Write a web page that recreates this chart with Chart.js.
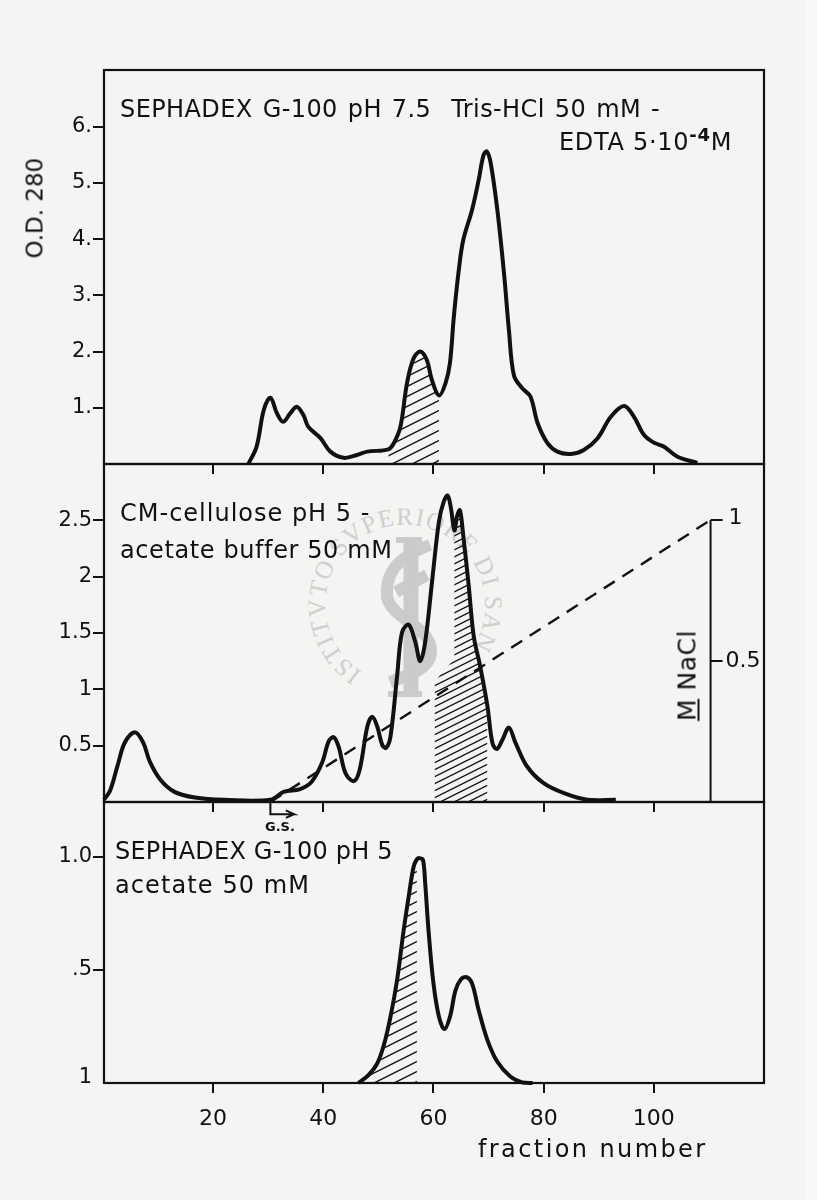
<!DOCTYPE html>
<html>
<head>
<meta charset="utf-8">
<title>Sephadex and CM-cellulose fractions</title>
<script src="https://cdn.jsdelivr.net/npm/chart.js@4/dist/chart.umd.js"></script>
<style>
  html, body { margin: 0; padding: 0; background: #f4f4f3; }
  #page { position: relative; width: 817px; height: 1200px; overflow: hidden; }
  #edge { position: absolute; left: 806px; top: 0; width: 11px; height: 1200px; background: #f8f8f8; }
  canvas { position: absolute; left: 0; top: 0; }
  svg { position: absolute; left: 0; top: 0; }
  .t { position: absolute; white-space: pre; line-height: 1; color: #111; font-family: "DejaVu Sans", sans-serif; font-size: 24px; }
  .rot { transform: rotate(-90deg); transform-origin: center center; }
  .sup { position: relative; top: -9px; font-size: 18px; font-weight: 700; }
</style>
</head>
<body>
<div id="page">
  <div id="edge"></div>
  <!-- stamp behind the charts -->
  <svg width="817" height="1200">
    <defs><path id="stampArc" d="M 362 672 A 80 80 0 1 1 477 640"></path></defs>
    <text font-family="Liberation Serif" font-size="25" fill="#cfcfce" letter-spacing="1.3">
      <textPath href="#stampArc">ISTITVTO SVPERIORE DI SANI</textPath>
    </text>
    <g fill="none" stroke="#cbcbca" stroke-width="12">
      <path d="M 411 540 V 694" stroke-width="15"></path>
      <path d="M 396 540 H 422 M 388 694 H 422" stroke-width="6"></path>
      <path d="M 430 545 C 395 558 385 575 387 597 C 392 620 430 625 431 650 C 432 668 410 675 390 682"></path>
      <path d="M 427 575 L 396 592"></path>
    </g>
  </svg>

  <canvas id="chartTop" width="817" height="1200"></canvas>
  <canvas id="chartMiddle" width="817" height="1200"></canvas>
  <canvas id="chartBottom" width="817" height="1200"></canvas>

  <div class="t" style="left:120px;top:97px;letter-spacing:0.4px;word-spacing:2px">SEPHADEX G-100 pH 7.5  Tris-HCl 50 mM -</div>
  <div class="t" style="left:559px;top:130px;letter-spacing:0.7px">EDTA 5·10<span class="sup">-4</span>M</div>
  <div class="t" style="left:120px;top:501px;letter-spacing:1px">CM-cellulose pH 5 -</div>
  <div class="t" style="left:120px;top:538px;letter-spacing:0.6px">acetate buffer 50 mM</div>
  <div class="t" style="left:115px;top:839px;letter-spacing:0.2px">SEPHADEX G-100 pH 5</div>
  <div class="t" style="left:115px;top:873px;letter-spacing:1.1px">acetate 50 mM</div>
  <div class="t" style="left:478px;top:1137px;letter-spacing:2.4px">fraction number</div>
  <div class="t rot" style="left:-15px;top:197px;width:100px;text-align:center;font-size:23px">O.D. 280</div>
  <div class="t rot" style="left:637px;top:663px;width:100px;text-align:center;font-size:25px;letter-spacing:0.5px"><u>M</u> NaCl</div>
  <div class="t" style="left:265px;top:820px;font-size:13px;font-weight:700">G.S.</div>
</div>

<script>
// fraction numbers and O.D. (G-100 pH 7.5)
const topFractions = [26.4, 27.9, 29.2, 30.4, 31.6, 32.7, 34, 35.2, 36.4, 37.3, 39.5, 41.3, 43.7, 46.1, 48, 51.8, 52.8, 54, 55.2, 56.4, 57.6, 58.8, 59.7, 61, 62.2, 63, 63.7, 64.6, 65.4, 67, 68.2, 69.1, 69.7, 70.4, 71.6, 72.8, 73.7, 74.6, 76.1, 77.6, 78.9, 80.7, 82.5, 84.9, 87.3, 89.8, 92.2, 94.6, 96.4, 98.2, 100, 101.8, 104.3, 107.9];
const topValues = [0, 0.31, 0.96, 1.18, 0.9, 0.75, 0.9, 1.02, 0.87, 0.66, 0.46, 0.22, 0.11, 0.16, 0.22, 0.26, 0.37, 0.66, 1.44, 1.88, 2, 1.85, 1.5, 1.22, 1.44, 1.8, 2.62, 3.45, 3.98, 4.52, 5.05, 5.5, 5.56, 5.35, 4.52, 3.4, 2.38, 1.58, 1.35, 1.2, 0.73, 0.37, 0.22, 0.18, 0.25, 0.46, 0.84, 1.03, 0.84, 0.52, 0.38, 0.31, 0.13, 0.02];
const topTicks = [1, 2, 3, 4, 5, 6];
const topTickLabels = ['1.', '2.', '3.', '4.', '5.', '6.'];
const topHatchRange = [51.8, 61];

// middle panel (CM-cellulose)
const midFractions = [0.2, 1.3, 2.7, 4, 5.8, 7.3, 8.5, 10.4, 13, 16.7, 22, 30.4, 32.8, 35.8, 37.9, 39.8, 41, 41.9, 42.8, 44, 45.5, 46.6, 48, 48.9, 49.8, 50.7, 51.4, 52.2, 53.4, 54.3, 55.5, 56.7, 57.6, 58.5, 59.8, 61, 61.9, 62.6, 63.2, 63.8, 64.3, 64.8, 65.4, 66.4, 67.3, 68.5, 69.8, 70.7, 71.5, 72.5, 73.7, 74.9, 77, 80, 83.7, 87.9, 93.1];
const midValues = [0.02, 0.1, 0.33, 0.53, 0.62, 0.53, 0.36, 0.2, 0.09, 0.04, 0.02, 0.02, 0.09, 0.115, 0.18, 0.35, 0.54, 0.575, 0.49, 0.26, 0.185, 0.285, 0.67, 0.757, 0.67, 0.507, 0.48, 0.58, 1.117, 1.507, 1.574, 1.42, 1.25, 1.42, 1.98, 2.49, 2.67, 2.72, 2.6, 2.41, 2.54, 2.59, 2.37, 1.92, 1.476, 1.2, 0.85, 0.525, 0.47, 0.55, 0.66, 0.525, 0.315, 0.167, 0.078, 0.02, 0.02];
const midTicks = [0.5, 1, 1.5, 2, 2.5];
const midTickLabels = ['0.5', '1', '1.5', '2', '2.5'];
// hatched area starts on a slanted edge before it reaches the curve
const midHatchLeadX = [60.2, 63.8];
const midHatchLeadY = [1.07, 1.27];
const midHatchEnd = 69.8;

// NaCl gradient, right hand axis
const saltFractions = [30.4, 110.3];
const saltMolar = [0, 1];
const saltTicks = [0.5, 1];
const saltTickLabels = ['0.5', '1'];

// G.S. arrow under the middle panel
const gsFractions = [30.4, 30.4, 34.7, 33.2, 34.7, 33.2];
const gsLevels = [0, -0.108, -0.108, -0.075, -0.108, -0.141];

// bottom panel (G-100 pH 5)
const lowFractions = [46.4, 48.2, 49.8, 51, 52.2, 53.4, 54.6, 55.5, 56.4, 57, 57.5, 58.1, 58.5, 59.1, 60, 61, 62, 63, 64, 65, 66, 67, 68.2, 69.8, 71.6, 74, 76.2, 78];
const lowValues = [0, 0.035, 0.087, 0.168, 0.293, 0.456, 0.677, 0.824, 0.957, 0.99, 0.995, 0.987, 0.884, 0.677, 0.441, 0.293, 0.238, 0.293, 0.41, 0.459, 0.468, 0.441, 0.323, 0.19, 0.094, 0.028, 0.002, 0];
const lowTicks = [0.025, 0.5, 1];
const lowTickLabels = ['1', '.5', '1.0'];
const lowHatchRange = [46.4, 57];

const fractionTicks = [20, 40, 60, 80, 100];

const INK = '#111111';
const FONT = '"DejaVu Sans", sans-serif';

// diagonal hatching as a repeating canvas pattern
function hatch(step, lineWidth) {
  const c = document.createElement('canvas');
  c.width = step * 2;
  c.height = step;
  const g = c.getContext('2d');
  g.strokeStyle = INK;
  g.lineWidth = lineWidth;
  g.beginPath();
  g.moveTo(-step * 2, step * 2);
  g.lineTo(step * 4, -step);
  g.moveTo(-step * 2, step);
  g.lineTo(step * 2, -step);
  g.moveTo(0, step * 2);
  g.lineTo(step * 4, 0);
  g.stroke();
  return g.createPattern(c, 'repeat');
}

function toPoints(xs, ys) {
  return xs.map((x, i) => ({ x: x, y: ys[i] }));
}

function inRange(xs, ys, from, to) {
  return toPoints(xs, ys).filter(p => p.x >= from && p.x <= to);
}

function curve(points) {
  return {
    data: points,
    borderColor: INK,
    borderWidth: 4,
    borderJoinStyle: 'round',
    pointRadius: 0,
    tension: 0.35,
    fill: false,
    clip: false
  };
}

function hatched(points, pattern) {
  return {
    data: points,
    borderWidth: 0,
    pointRadius: 0,
    tension: 0,
    fill: 'origin',
    backgroundColor: pattern
  };
}

// box round each panel
const framePlugin = {
  id: 'frame',
  afterDraw(chart) {
    const a = chart.chartArea;
    const c = chart.ctx;
    c.save();
    c.strokeStyle = INK;
    c.lineWidth = 2.2;
    c.strokeRect(a.left, a.top, a.right - a.left, a.bottom - a.top);
    c.restore();
  }
};

// NaCl axis stands inside the plot with its ticks facing right
const saltAxisPlugin = {
  id: 'saltAxis',
  afterDraw(chart) {
    const s = chart.scales.salt;
    if (!s) return;
    const x = chart.scales.x.getPixelForValue(saltFractions[1]);
    const c = chart.ctx;
    c.save();
    c.strokeStyle = INK;
    c.fillStyle = INK;
    c.lineWidth = 2;
    c.beginPath();
    c.moveTo(x, s.getPixelForValue(0));
    c.lineTo(x, s.getPixelForValue(1));
    saltTicks.forEach(v => {
      c.moveTo(x, s.getPixelForValue(v));
      c.lineTo(x + 12, s.getPixelForValue(v));
    });
    c.stroke();
    c.font = '22px ' + FONT;
    c.textBaseline = 'middle';
    saltTicks.forEach((v, i) => {
      c.fillText(saltTickLabels[i], x + (v === 1 ? 18 : 15), s.getPixelForValue(v) - (v === 1 ? 2 : 0));
    });
    c.restore();
  }
};

function makePanel(id, top, bottom, yMax, yTicks, yLabels, datasets, showFractionLabels, extraScales) {
  const scales = {
    x: {
      type: 'linear',
      min: 0.2,
      max: 120,
      afterBuildTicks(scale) { scale.ticks = fractionTicks.map(v => ({ value: v })); },
      afterFit(scale) { scale.height = 50; },
      ticks: {
        autoSkip: false,
        maxRotation: 0,
        padding: 13,
        color: INK,
        font: { family: FONT, size: 22 },
        callback: v => (showFractionLabels ? String(v) : '')
      },
      grid: { drawOnChartArea: false, drawTicks: true, tickLength: 10, color: INK, lineWidth: 2 },
      border: { display: true, color: INK, width: 2 }
    },
    y: {
      min: 0,
      max: yMax,
      afterBuildTicks(scale) { scale.ticks = yTicks.map(v => ({ value: v })); },
      afterFit(scale) { scale.width = 104; },
      ticks: {
        autoSkip: false,
        padding: 1,
        color: INK,
        font: { family: FONT, size: 21 },
        callback: v => yLabels[yTicks.indexOf(v)]
      },
      grid: {
        drawOnChartArea: false,
        drawTicks: true,
        tickLength: 11,
        lineWidth: 2,
        // the label at the foot of the bottom panel has no tick mark
        tickColor: ctx => (ctx.tick && ctx.tick.value === 0.025 ? 'rgba(0,0,0,0)' : INK),
        color: INK
      },
      border: { display: true, color: INK, width: 2 }
    }
  };
  return new Chart(document.getElementById(id), {
    type: 'line',
    data: { datasets: datasets },
    options: {
      responsive: false,
      animation: false,
      devicePixelRatio: 1,
      layout: { padding: { left: 0, right: 53, top: top, bottom: 1200 - bottom - 50 } },
      plugins: { legend: { display: false }, tooltip: { enabled: false } },
      scales: Object.assign(scales, extraScales || {})
    },
    plugins: [framePlugin, saltAxisPlugin]
  });
}

// _____________________________________________________________________________
// top panel

makePanel('chartTop', 70, 464, 7.01, topTicks, topTickLabels, [
  curve(toPoints(topFractions, topValues)),
  hatched(inRange(topFractions, topValues, topHatchRange[0], topHatchRange[1]), hatch(10, 1.4))
], false);

// _____________________________________________________________________________
// middle panel

const midHatchPoints = toPoints(midHatchLeadX, midHatchLeadY)
  .concat(inRange(midFractions, midValues, midHatchLeadX[1], midHatchEnd));

makePanel('chartMiddle', 464, 802, 3.0, midTicks, midTickLabels, [
  curve(toPoints(midFractions, midValues)),
  hatched(midHatchPoints, hatch(7, 1.3)),
  {
    data: toPoints(saltFractions, saltMolar),
    yAxisID: 'salt',
    borderColor: INK,
    borderWidth: 2.4,
    borderDash: [13, 9],
    pointRadius: 0,
    tension: 0,
    fill: false
  },
  {
    data: toPoints(gsFractions, gsLevels),
    borderColor: INK,
    borderWidth: 2,
    pointRadius: 0,
    tension: 0,
    fill: false,
    clip: false
  }
], false, {
  salt: {
    display: false,
    min: 0,
    max: 338 / 282
  }
});

// _____________________________________________________________________________
// bottom panel, carries the fraction number labels

makePanel('chartBottom', 802, 1083, 281 / 226, lowTicks, lowTickLabels, [
  curve(toPoints(lowFractions, lowValues)),
  hatched(inRange(lowFractions, lowValues, lowHatchRange[0], lowHatchRange[1]), hatch(10, 1.4))
], true);
</script>
</body>
</html>
